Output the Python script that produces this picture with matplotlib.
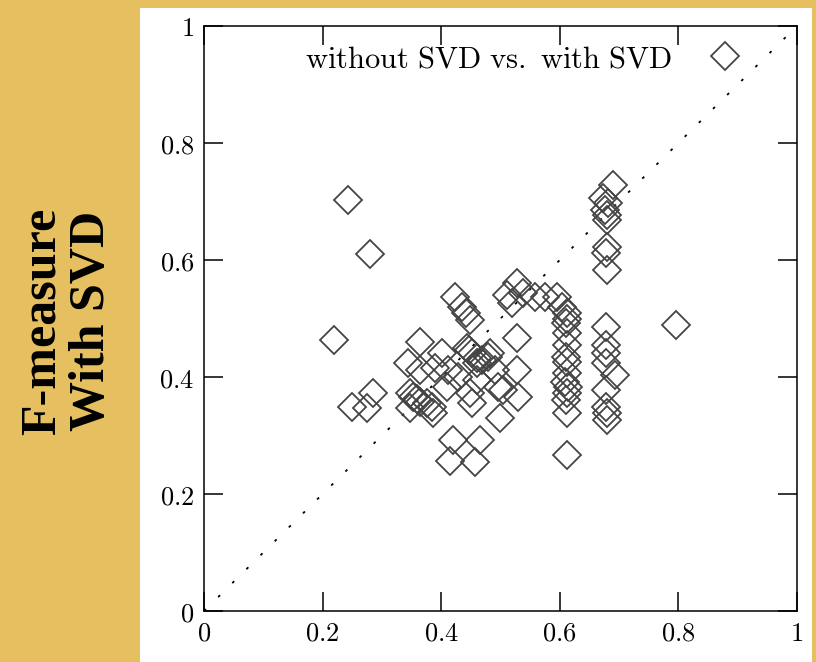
import matplotlib
matplotlib.use("Agg")
import matplotlib.pyplot as plt
from matplotlib.patches import Rectangle
from matplotlib.ticker import FuncFormatter

# F-measure without SVD (x) vs with SVD (y)
without_svd = [
    0.243, 0.280, 0.219, 0.250, 0.275, 0.285,
    0.344, 0.364, 0.347, 0.352, 0.360, 0.347, 0.364, 0.376, 0.386, 0.384,
    0.401, 0.390, 0.364, 0.411,
    0.423, 0.435, 0.442, 0.449, 0.443, 0.447, 0.452, 0.460, 0.469, 0.428,
    0.410, 0.449, 0.452, 0.460, 0.460, 0.482, 0.479, 0.420, 0.465, 0.415, 0.457,
    0.528, 0.511, 0.519, 0.538, 0.558, 0.575, 0.595, 0.604, 0.612,
    0.528, 0.528, 0.530, 0.499, 0.496, 0.504, 0.491,
    0.612, 0.610, 0.612, 0.612, 0.610, 0.612, 0.612, 0.608, 0.614, 0.612,
    0.610, 0.612, 0.612,
    0.690, 0.673, 0.681, 0.676, 0.680, 0.680, 0.680, 0.678, 0.680,
    0.678, 0.678, 0.678, 0.678, 0.693, 0.678, 0.678, 0.680, 0.680,
    0.796,
]
with_svd = [
    0.703, 0.610, 0.463, 0.349, 0.347, 0.373,
    0.424, 0.460, 0.373, 0.366, 0.362, 0.347, 0.357, 0.355, 0.338, 0.349,
    0.441, 0.415, 0.412, 0.412,
    0.537, 0.520, 0.509, 0.497, 0.450, 0.446, 0.441, 0.432, 0.429, 0.400,
    0.383, 0.373, 0.356, 0.395, 0.424, 0.441, 0.434, 0.292, 0.292, 0.256, 0.254,
    0.561, 0.540, 0.526, 0.544, 0.537, 0.537, 0.537, 0.520, 0.509,
    0.467, 0.412, 0.366, 0.330, 0.383, 0.378, 0.412,
    0.500, 0.492, 0.475, 0.455, 0.435, 0.425, 0.407, 0.391, 0.383, 0.373,
    0.361, 0.338, 0.267,
    0.728, 0.706, 0.697, 0.685, 0.677, 0.668, 0.622, 0.612, 0.583,
    0.485, 0.455, 0.441, 0.424, 0.403, 0.378, 0.349, 0.338, 0.326,
    0.489,
]

ticks = [0, 0.2, 0.4, 0.6, 0.8, 1]
legend_label = r"$\mathrm{without\ SVD\ vs.\ with\ SVD}$"

plt.rcParams['mathtext.fontset'] = 'cm'

fig = plt.figure(figsize=(8.16, 6.62), dpi=100, facecolor='#E6BF60')
# white slide panel behind the plot
fig.patches.append(Rectangle((140 / 816, 0), 672 / 816, 654 / 662,
                             transform=fig.transFigure, facecolor='white',
                             edgecolor='none', zorder=-10))

ax = fig.add_axes([0.25, 0.077, 0.7267, 0.8837])
ax.set_facecolor('white')

# y = x reference line
ax.plot([0, 1], [0, 1], color='black', lw=1.3, dashes=(1.5, 9.5))

ax.plot(without_svd, with_svd, ls='none', marker='D', ms=14,
        mfc='none', mec='#444444', mew=1.3, label=legend_label)

ax.set_xlim(0, 1)
ax.set_ylim(0, 1)
ax.set_xticks(ticks)
ax.set_yticks(ticks)
fmt = FuncFormatter(lambda v, p: f"${v:g}$")
ax.xaxis.set_major_formatter(fmt)
ax.yaxis.set_major_formatter(fmt)
ax.tick_params(direction='in', length=14, width=1.1, labelsize=19,
               top=True, right=True, pad=7)
for s in ax.spines.values():
    s.set_linewidth(1.1)

ax.legend(loc='upper right', bbox_to_anchor=(0.912, 0.969), frameon=False,
          markerfirst=False, numpoints=1, fontsize=22, handlelength=1.31,
          handletextpad=1.08, borderpad=0, borderaxespad=0)

fig.text(0.083, 0.515, "F-measure\nWith SVD", rotation=90, ha='center',
         va='center', fontsize=36, fontweight='bold',
         family='Liberation Serif', linespacing=1.1)

plt.savefig('out.png', dpi=100, facecolor=fig.get_facecolor())
